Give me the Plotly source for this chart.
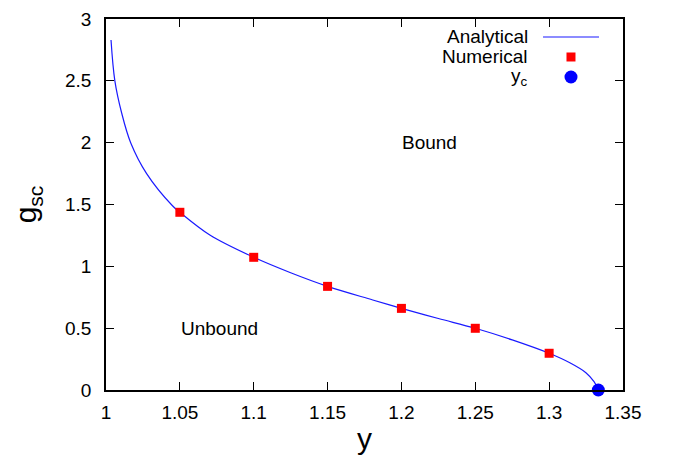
import plotly.graph_objects as go

# Analytical boundary curve g_sc(y)
curve_y = [1.0034, 1.006, 1.0106, 1.0167, 1.0275, 1.045, 1.05,
           1.0703, 1.1, 1.125, 1.15, 1.1806, 1.2, 1.225, 1.25,
           1.275, 1.3, 1.314, 1.3249, 1.3304, 1.3333]
curve_g = [2.83, 2.50, 2.24, 2.00, 1.75, 1.49, 1.437,
           1.253, 1.073, 0.948, 0.838, 0.728, 0.660, 0.578, 0.499,
           0.405, 0.297, 0.220, 0.140, 0.067, 0.0]

# Numerical results
num_y = [1.05, 1.10, 1.15, 1.20, 1.25, 1.30]
num_g = [1.437, 1.073, 0.838, 0.660, 0.499, 0.297]

# Critical point
yc_y = [1.3333]
yc_g = [0.0]

x_ticks = [1, 1.05, 1.1, 1.15, 1.2, 1.25, 1.3, 1.35]
x_labels = ["1", "1.05", "1.1", "1.15", "1.2", "1.25", "1.3", "1.35"]
y_ticks = [0, 0.5, 1, 1.5, 2, 2.5, 3]
y_labels = ["0", "0.5", "1", "1.5", "2", "2.5", "3"]

BLUE = "#1a1aff"
RED = "#ff0000"
FONT = "Liberation Sans, Arial, sans-serif"
TXT = 19

fig = go.Figure()
fig.add_trace(go.Scatter(x=curve_y, y=curve_g, mode="lines",
                         line=dict(color=BLUE, width=1.2, shape="spline", smoothing=1.0),
                         showlegend=False, cliponaxis=False))
fig.add_trace(go.Scatter(x=num_y, y=num_g, mode="markers",
                         marker=dict(symbol="square", color=RED, size=9),
                         showlegend=False))
fig.add_trace(go.Scatter(x=yc_y, y=yc_g, mode="markers",
                         marker=dict(symbol="circle", color="#0000ff", size=13),
                         showlegend=False, cliponaxis=False))

axis_common = dict(showgrid=False, zeroline=False, showline=True, linecolor="black",
                   linewidth=1.6, mirror="ticks", ticks="inside", ticklen=8,
                   tickwidth=1.2, tickcolor="black", automargin=False,
                   tickfont=dict(family=FONT, size=TXT, color="black"))

fig.update_xaxes(range=[1, 1.35], tickvals=x_ticks, ticktext=x_labels,
                 ticklabelstandoff=4,
                 title=dict(text="y", font=dict(family=FONT, size=30, color="black"),
                            standoff=6), **axis_common)
fig.update_yaxes(range=[0, 3], tickvals=y_ticks, ticktext=y_labels,
                 ticklabelstandoff=9,
                 title=dict(text="g<sub>sc</sub>",
                            font=dict(family=FONT, size=30, color="black"),
                            standoff=19), **axis_common)

# Region labels
fig.add_annotation(x=1.219, y=2.0, text="Bound", showarrow=False,
                   font=dict(family=FONT, size=TXT, color="black"))
fig.add_annotation(x=1.077, y=0.5, text="Unbound", showarrow=False,
                   font=dict(family=FONT, size=TXT, color="black"))

# Key (text on the left, sample on the right)
key_rows = [("Analytical", 0.9515), ("Numerical", 0.8976), ("y<sub>c</sub>", 0.8437)]
for label, yy in key_rows:
    fig.add_annotation(xref="paper", yref="paper", x=0.8201, y=yy, text=label,
                       xanchor="right", yanchor="middle", showarrow=False,
                       font=dict(family=FONT, size=TXT, color="black"))

W, H = 517.0, 371.0
cx = 0.8994
fig.add_shape(type="line", xref="paper", yref="paper", x0=0.8453, x1=0.9536,
              y0=0.9515, y1=0.9515, line=dict(color=BLUE, width=1.2))
fig.add_shape(type="rect", xref="paper", yref="paper",
              x0=cx - 4.5 / W, x1=cx + 4.5 / W, y0=0.8976 - 4.5 / H, y1=0.8976 + 4.5 / H,
              fillcolor=RED, line=dict(width=0))
fig.add_shape(type="circle", xref="paper", yref="paper",
              x0=cx - 6.5 / W, x1=cx + 6.5 / W, y0=0.8437 - 6.5 / H, y1=0.8437 + 6.5 / H,
              fillcolor="#0000ff", line=dict(width=0))

fig.update_layout(width=675, height=457, plot_bgcolor="white", paper_bgcolor="white",
                  margin=dict(l=106, r=52, t=19, b=67), showlegend=False,
                  font=dict(family=FONT, color="black"))

fig.write_html("out.html")
